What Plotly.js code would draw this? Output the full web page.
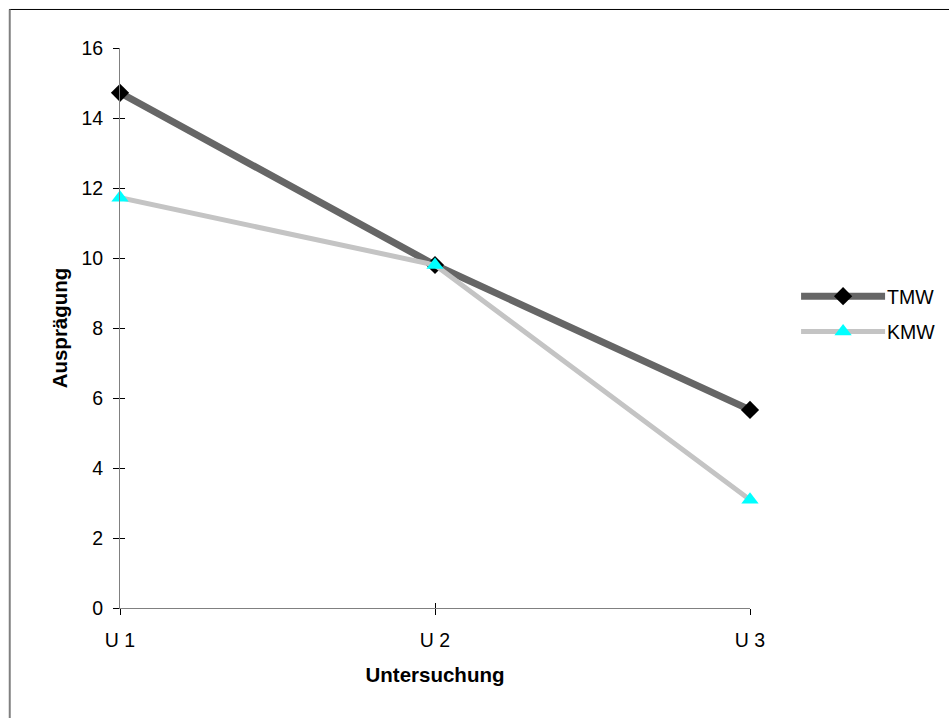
<!DOCTYPE html>
<html>
<head>
<meta charset="utf-8">
<script src="https://cdn.plot.ly/plotly-3.0.1.min.js"></script>
<style>html,body{margin:0;padding:0;background:#fff;}#chart{width:949px;height:718px;}</style>
</head>
<body>
<div id="chart"></div>
<script>
const categories = ["U 1", "U 2", "U 3"];
const tmw = [14.72, 9.8, 5.66];
const kmw = [11.72, 9.8, 3.09];
const yTicks = [0, 2, 4, 6, 8, 10, 12, 14, 16];

const fam = "Liberation Sans, Arial, sans-serif";
const tickFont = {family: fam, size: 19.5, color: "#000"};
const titleFont = {family: fam, size: 20.5, color: "#000"};

const traces = [
  {
    x: categories, y: tmw, name: "TMW", type: "scatter", mode: "lines+markers",
    legendgroup: "a", cliponaxis: false,
    line: {color: "#666666", width: 7},
    marker: {symbol: "diamond", size: 14, color: "#000"}
  },
  {
    x: categories, y: kmw, name: "KMW", type: "scatter", mode: "lines+markers",
    legendgroup: "b", cliponaxis: false,
    line: {color: "#c4c4c4", width: 5},
    marker: {symbol: "triangle-up", size: 15, color: "#00ffff"}
  }
];

const layout = {
  width: 949, height: 718,
  margin: {l: 120, r: 199, t: 48, b: 110},
  paper_bgcolor: "#fff", plot_bgcolor: "#fff",
  font: tickFont,
  showlegend: true,
  legend: {x: 1.116, y: 0.525, xanchor: "left", yanchor: "middle", font: tickFont,
           bgcolor: "rgba(0,0,0,0)", tracegroupgap: 7, itemwidth: 30},
  xaxis: {
    type: "category", range: [0, 2], showgrid: false, zeroline: false,
    showline: true, linecolor: "#808080", linewidth: 1,
    ticks: "outside", ticklen: 6, tickcolor: "#000", tickwidth: 1,
    tickfont: tickFont, ticklabelstandoff: 9,
    title: {text: "<b>Untersuchung</b>", font: titleFont, standoff: 17}
  },
  yaxis: {
    range: [0, 16], tickvals: yTicks, showgrid: false, zeroline: false,
    showline: true, linecolor: "#808080", linewidth: 1,
    ticks: "outside", ticklen: 6, tickcolor: "#000", tickwidth: 1,
    tickfont: tickFont, ticklabelstandoff: 6,
    title: {text: "<b>Ausprägung</b>", font: titleFont, standoff: 8}
  },
  xaxis2: {
    overlaying: "x", anchor: "y", side: "bottom", range: [0, 2], tickvals: [0, 1, 2],
    showgrid: false, zeroline: false, showline: false, showticklabels: false,
    ticks: "inside", ticklen: 5, tickcolor: "#000", tickwidth: 1
  },
  yaxis2: {
    overlaying: "y", anchor: "x", side: "left", range: [0, 16], tickvals: yTicks,
    showgrid: false, zeroline: false, showline: false, showticklabels: false,
    ticks: "inside", ticklen: 5, tickcolor: "#000", tickwidth: 1
  },
  shapes: [
    {type: "line", xref: "paper", yref: "paper", x0: -0.176, x1: 1.4, y0: 1.0688, y1: 1.0688,
     line: {color: "#000", width: 1}},
    {type: "line", xref: "paper", yref: "paper", x0: -0.175, x1: -0.175, y0: 1.0688, y1: -0.25,
     line: {color: "#808080", width: 2}}
  ]
};

// invisible trace to activate overlay axes (ticks on the inner side)
traces.push({x: [0], y: [0], xaxis: "x2", yaxis: "y2", type: "scatter", mode: "markers",
  marker: {opacity: 0}, showlegend: false, hoverinfo: "skip"});

Plotly.newPlot("chart", traces, layout, {displayModeBar: false, staticPlot: true}).then(function () {
  // widen the legend line samples and move the labels like the original
  document.querySelectorAll(".legend [clip-path]").forEach(function (e) {
    e.removeAttribute("clip-path");
  });
  document.querySelectorAll(".legend .legendlines path").forEach(function (p) {
    p.setAttribute("d", "M-22,0h84");
  });
  document.querySelectorAll(".legend text.legendtext").forEach(function (t) {
    t.setAttribute("x", 64);
  });
});
</script>
</body>
</html>
